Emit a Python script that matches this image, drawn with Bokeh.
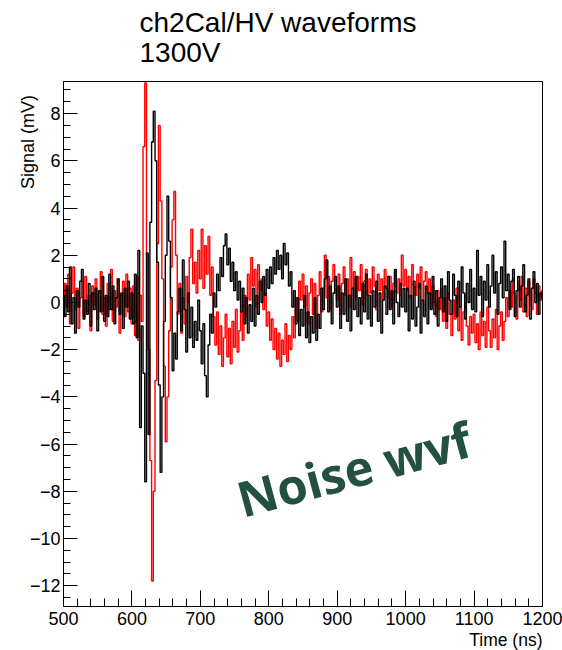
import math
from bokeh.plotting import figure
from bokeh.models import Range1d, Label, Title, SingleIntervalTicker, CustomJSTickFormatter
from bokeh.embed import file_html
from bokeh.resources import INLINE

# ---- data ----
t_start = 500.0   # ns
t_step = 2.5      # ns
x_lo, x_hi = 500, 1200
y_lo, y_hi = -12.88, 9.36

black_mv = [
    0.3, -0.6, 0.7, -0.4, 1.5, -0.9, 0.2, -1.3, 0.5, -0.2, 0.9, 1.4, -0.7, 0.1, -0.5, 0.8, -1.0, 0.4, -0.3, 0.6,
    -1.2, 0.5, -0.4, 1.1, -0.8, 0.3, -0.6, 1.2, -0.3, 0.7, -0.9, 0.2, 1.0, -0.5, 0.4, -1.1, 0.6, -0.2, 0.9, -0.7,
    0.4, -0.9, 1.2, -1.5, 2.2, -5.3, -1.0, -3.0, -7.6, 2.1, -5.6, 3.4, 6.8, 8.1, 6.0, 1.7, -3.5, -7.2, -4.0, -0.8,
    2.0, 4.5, 2.6, 0.2, -2.9, -1.3, -2.4, -0.4, 0.6, -1.2, 1.8, -0.3, -2.1, 0.4, -1.5, -0.2, -1.9, -0.8, -1.6, 0.1,
    -1.2, -2.6, -0.9, -3.1, -4.0, -1.8, -0.5, -1.3, 0.4, -0.2, 1.2, 0.5, 1.9, 1.1, 2.4, 2.9, 1.6, 2.3, 0.9, 1.7,
    0.5, 1.3, 0.1, 0.9, -0.4, 0.6, -0.9, 0.2, -1.3, -0.1, -0.8, 0.6, -1.0, 0.3, -0.5, 0.9, 0.0, 1.1, 0.3, 1.4,
    0.6, 1.5, 0.8, 1.9, 1.2, 2.2, 1.4, 2.0, 1.0, 2.5, 1.6, 2.1, 0.7, 1.3, -0.2, 0.5, -0.9, 0.2, -1.4, -0.3,
    -1.0, 0.3, -1.5, -0.4, -1.7, -0.6, -1.3, 0.2, -1.6, -0.5, -1.1, 0.6, -0.3, 1.0, 1.8, -0.4, 0.7, -0.9, 0.4, 1.1,
    -0.2, 0.7, -1.1, 0.4, -0.5, 1.0, -0.8, 0.3, -1.2, 0.6, -0.3, 1.1, -0.6, 0.2, -0.9, 0.8, -0.4, 1.2, -0.7, 0.3,
    -1.0, 0.5, -0.2, 0.9, -0.8, 0.4, -1.3, 0.1, 0.7, -0.5, 1.1, -0.3, 0.5, -0.9, 1.4, 0.0, -0.6, 0.8, -0.2, 0.6,
    -0.4, 0.6, -1.2, 0.3, -0.7, 0.9, -1.0, -0.2, 0.8, -1.3, 0.1, -0.6, 0.7, -0.9, 0.4, -0.3, 1.1, -0.5, 0.5, -1.0,
    0.2, 1.0, -0.4, 0.7, -0.8, 1.3, 0.1, -0.5, 1.2, 0.3, -0.6, 0.9, -0.2, 1.5, 0.4, -0.7, 0.8, 0.0, 1.4, -0.3,
    0.6, -0.4, 2.2, 0.3, 1.1, -0.6, 0.9, 0.1, 1.6, -0.2, 0.7, 2.0, 0.4, 1.3, -0.5, 0.8, 1.5, 0.2, 2.6, 0.5,
    1.2, -0.3, 0.9, 1.4, -0.6, 0.5, 1.1, -0.2, 0.7, 1.6, -0.4, 0.3, 1.0, -0.7, 0.6, 1.3, 0.0, 0.8, -0.5, 0.4,
    0.2,
]

red_mv = [
    -0.5, 0.8, -0.2, 1.2, -0.9, 0.4, 1.5, -0.3, 0.6, -1.1, 0.2, 0.9, -0.6, 1.1, -0.4, 0.3, -1.2, 0.7, -0.1, 1.0,
    -0.7, 0.4, 1.3, -0.5, 0.2, -1.0, 0.8, -0.3, 1.4, -0.8, 0.5, -0.2, 1.0, -1.3, 0.3, 0.9, -0.6, 1.2, -0.4, 0.6,
    -0.9, 0.7, -1.4, 1.1, -1.6, 0.3, -0.8, 6.6, 9.3, 2.0, -2.0, -6.7, -11.8, -8.0, -3.3, 2.5, 7.5, 4.3, 1.0, -2.7,
    -5.9, -4.0, -1.2, 1.5, 3.5, 4.7, 2.0, -0.5, 0.8, -1.3, 0.2, -0.9, 1.1, 0.0, 1.9, 3.1, 0.8, 1.7, 0.4, 2.2,
    1.0, 3.1, 0.6, 2.4, 1.2, 2.8, 0.3, 1.5, -0.6, -1.8, -0.4, -2.2, -1.0, -2.7, -1.5, -0.5, -2.3, -1.1, -2.6, -0.8,
    -1.9, -0.3, -2.1, -1.2, -0.4, -1.6, 0.3, -0.6, 1.2, 0.1, 1.9, 0.7, 1.4, -0.2, 1.6, 0.5, 1.0, -0.3, 0.4, -1.0,
    -0.4, -1.6, -0.7, -2.0, -1.1, -2.4, -1.3, -2.7, -1.6, -2.2, -0.9, -2.5, -1.4, -2.0, -0.6, -1.5, 0.2, -0.8, 0.9, 0.1,
    1.2, -0.2, 0.7, -0.9, 0.4, 1.0, -0.5, 0.8, -1.1, 0.3, 1.3, -0.4, 0.6, 2.0, 0.2, 1.1, -0.3, 0.9, 1.6, 0.4,
    0.1, 1.2, -0.5, 0.8, 1.5, 0.3, 1.0, -0.2, 1.9, 0.6, 1.3, 0.2, 1.1, 0.5, 1.6, -0.1, 0.9, 1.4, 0.3, 1.0,
    0.4, 1.5, 0.7, -0.3, 1.2, 0.5, 1.0, 0.1, 1.4, 0.6, 0.2, 1.1, -0.2, 0.8, 1.3, 0.4, 1.0, 0.3, 2.0, 0.7,
    1.4, 0.5, 1.1, 0.2, 1.6, 0.7, 0.3, 1.2, 0.6, 1.5, 0.1, 0.9, 1.3, 0.4, 1.0, -0.2, 0.7, 0.0, -0.6, 0.5,
    -0.3, 0.6, -0.8, 0.2, -1.1, 0.4, -0.5, -1.4, 0.1, -0.7, 0.6, -1.2, -0.2, -1.6, -0.4, 0.3, -1.0, -1.8, -0.6, -1.3,
    -0.5, -1.7, -0.9, -2.0, -0.4, -1.4, -0.8, -1.9, -0.2, -1.2, -1.9, -0.7, -1.5, -0.3, -2.0, -1.0, -0.4, -1.6, -0.8, 0.2,
    -0.6, 0.5, -0.2, 1.0, 0.3, -0.7, 0.8, 0.1, 1.1, -0.4, 0.6, -0.6, 0.9, 0.2, -0.3, 1.0, 0.4, -0.5, 0.7, 0.1,
    0.5,
]

t_ns = [t_start + t_step * i for i in range(len(black_mv))]

title_lines = ["ch2Cal/HV waveforms", "1300V"]
x_title = "Time (ns)"
y_title = "Signal (mV)"
note_text = "Noise wvf"

FONT = "Liberation Sans"

p = figure(width=562, height=650, output_backend="svg", toolbar_location=None,
           x_range=Range1d(x_lo, x_hi), y_range=Range1d(y_lo, y_hi),
           min_border_left=63, min_border_right=20, min_border_top=81, min_border_bottom=0,
           background_fill_color="white", border_fill_color="white")

p.step(t_ns, red_mv, mode="center", line_color="#ff0000", line_width=1.4)
p.step(t_ns, black_mv, mode="center", line_color="#000000", line_width=1.4)

p.xgrid.visible = False
p.ygrid.visible = False
p.outline_line_color = "black"
p.outline_line_width = 1
p.outline_line_alpha = 1

p.xaxis.ticker = SingleIntervalTicker(interval=100, num_minor_ticks=5)
p.yaxis.ticker = SingleIntervalTicker(interval=2, num_minor_ticks=4)
p.yaxis.formatter = CustomJSTickFormatter(code="""
    const v = Math.round(tick * 100) / 100;
    return v < 0 ? "\\u2212" + Math.abs(v) : String(v);
""")

for ax, maj, mnr in ((p.xaxis, 16, 8), (p.yaxis, 14, 7)):
    ax.major_tick_in = maj
    ax.major_tick_out = 0
    ax.minor_tick_in = mnr
    ax.minor_tick_out = 0
    ax.axis_line_color = "black"
    ax.major_tick_line_color = "black"
    ax.minor_tick_line_color = "black"
    ax.major_label_text_font = FONT
    ax.major_label_text_font_size = "18px"
    ax.major_label_text_color = "black"
p.xaxis.major_label_standoff = 5
p.yaxis.major_label_standoff = 3

title_style = dict(align="left", offset=76, vertical_align="bottom", text_font=FONT,
                   text_font_size="28px", text_font_style="normal", text_color="black")
# second title line (closest to the frame), then first line above it
p.add_layout(Title(text=title_lines[1], standoff=27, **title_style), "above")
p.add_layout(Title(text=title_lines[0], standoff=-33, **title_style), "above")

# axis titles, ROOT style: at the far end of each axis
p.add_layout(Title(text=x_title, align="right", offset=0, vertical_align="bottom", standoff=0.5,
                   text_font=FONT, text_font_size="17.5px", text_font_style="normal",
                   text_color="black"), "below")
p.add_layout(Title(text=y_title, align="right", offset=13.5, vertical_align="bottom", standoff=-22,
                   text_font=FONT, text_font_size="18px", text_font_style="normal",
                   text_color="black"), "left")

p.add_layout(Label(x=755, y=-8.35, text=note_text, angle=math.radians(15),
                   text_font="Open Sans", text_font_style="bold", text_font_size="49px",
                   text_color="#24503f", text_align="left", text_baseline="alphabetic"))

open("out.html", "w").write(file_html(p, INLINE))
